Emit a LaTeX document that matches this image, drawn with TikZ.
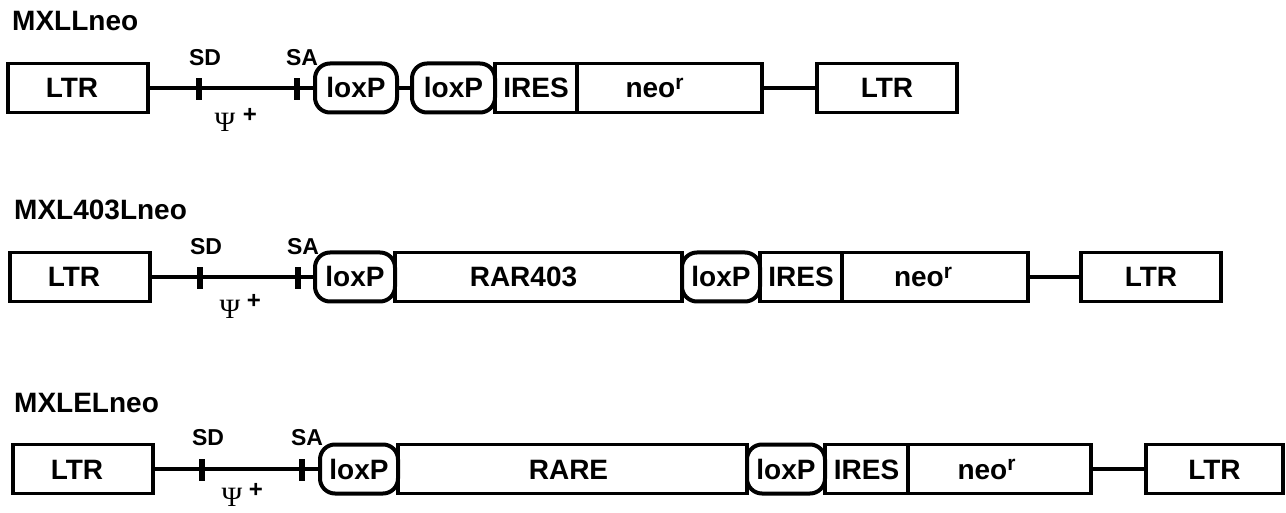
\documentclass[tikz,border=0pt]{standalone}
\usepackage{fontspec}
\setmainfont{Liberation Sans}
\newfontfamily\grkfont{Liberation Serif}
\newcommand{\neor}{neo\raisebox{0.55ex}{\fontsize{21}{21}\selectfont r}}
\begin{document}
\begin{tikzpicture}[x=1pt,y=-1pt,
  box/.style={draw, line width=3.6pt, inner sep=0pt, outer sep=0pt, minimum height=49pt, anchor=west,
    text height=20pt, text depth=0pt, font=\fontsize{28}{28}\selectfont\bfseries},
  lox/.style={box, rounded corners=15pt, line width=4pt},
  conn/.style={line width=3.6pt},
  tickm/.style={fill=black, draw=none, inner sep=0pt, outer sep=0pt, minimum width=6pt, minimum height=22pt},
  lab/.style={font=\fontsize{23}{23}\selectfont\bfseries, inner sep=0pt},
  ttl/.style={font=\fontsize{28}{28}\selectfont\bfseries, anchor=west, inner sep=0pt},
  psi/.style={font=\fontsize{28}{28}\selectfont\grkfont, inner sep=0pt, text height=19pt, text depth=0pt},
  plus/.style={font=\fontsize{24}{24}\selectfont\bfseries, inner sep=0pt}]
\useasboundingbox (0,0) rectangle (1286,513);
% ---------- row 1 ----------
\node[ttl] (t1) at (12,21) {MXLLneo};
\node[tickm] (sd1) at (199,89) {};
\node[tickm] (sa1) at (297,89) {};
\node[box, minimum width=140pt] (a1) at (8,88) {\hspace{-12pt}LTR};
\node[lox, minimum width=82pt] (la1) at (315,88) {loxP};
\node[lox, minimum width=83pt] (lb1) at (412,88) {loxP};
\node[box, minimum width=82pt] (i1) at (495,88) {IRES};
\node[box, minimum width=185pt] (n1) at (577,88) {\hspace{-30pt}\neor};
\node[box, minimum width=140pt] (z1) at (817,88) {LTR};
\draw[conn] (a1.east) -- (la1.west);
\draw[conn] (la1.east) -- (lb1.west);
\draw[conn] (n1.east) -- (z1.west);
\node[lab] (sdl1) at (205,58) {SD};
\node[lab] (sal1) at (302,58) {SA};
\node[psi] (p1) at (225,122) {Ψ};
\node[plus] (pp1) at (250,115) {+};
% ---------- row 2 ----------
\node[ttl] (t2) at (14,210) {MXL403Lneo};
\node[tickm] (sd2) at (200,278) {};
\node[tickm] (sa2) at (298,278) {};
\node[box, minimum width=140pt] (a2) at (10,277) {\hspace{-12pt}LTR};
\node[box, minimum width=287pt] (r2) at (395,277) {\hspace{-30pt}RAR403};
\node[lox, minimum width=80pt] (la2) at (315,277) {loxP};
\node[lox, minimum width=78pt] (lb2) at (682,277) {loxP};
\node[box, minimum width=82pt] (i2) at (760,277) {IRES};
\node[box, minimum width=186pt] (n2) at (842,277) {\hspace{-24pt}\neor};
\node[box, minimum width=140pt] (z2) at (1081,277) {LTR};
\draw[conn] (a2.east) -- (la2.west);
\draw[conn] (n2.east) -- (z2.west);
\node[lab] (sdl2) at (206,247) {SD};
\node[lab] (sal2) at (303,247) {SA};
\node[psi] (p2) at (230,309) {Ψ};
\node[plus] (pp2) at (254,301) {+};
% ---------- row 3 ----------
\node[ttl] (t3) at (14,403) {MXLELneo};
\node[tickm] (sd3) at (202,470) {};
\node[tickm] (sa3) at (302,470) {};
\node[box, minimum width=140pt] (a3) at (13,469) {\hspace{-12pt}LTR};
\node[box, minimum width=349pt] (r3) at (398,469) {\hspace{-8pt}RARE};
\node[lox, minimum width=78pt] (la3) at (320,469) {loxP};
\node[lox, minimum width=78pt] (lb3) at (747,469) {loxP};
\node[box, minimum width=83pt] (i3) at (825,469) {IRES};
\node[box, minimum width=183pt] (n3) at (908,469) {\hspace{-26pt}\neor};
\node[box, minimum width=137pt] (z3) at (1146,469) {LTR};
\draw[conn] (a3.east) -- (la3.west);
\draw[conn] (n3.east) -- (z3.west);
\node[lab] (sdl3) at (208,438) {SD};
\node[lab] (sal3) at (307,438) {SA};
\node[psi] (p3) at (232,497) {Ψ};
\node[plus] (pp3) at (256,490) {+};
\end{tikzpicture}
\end{document}
